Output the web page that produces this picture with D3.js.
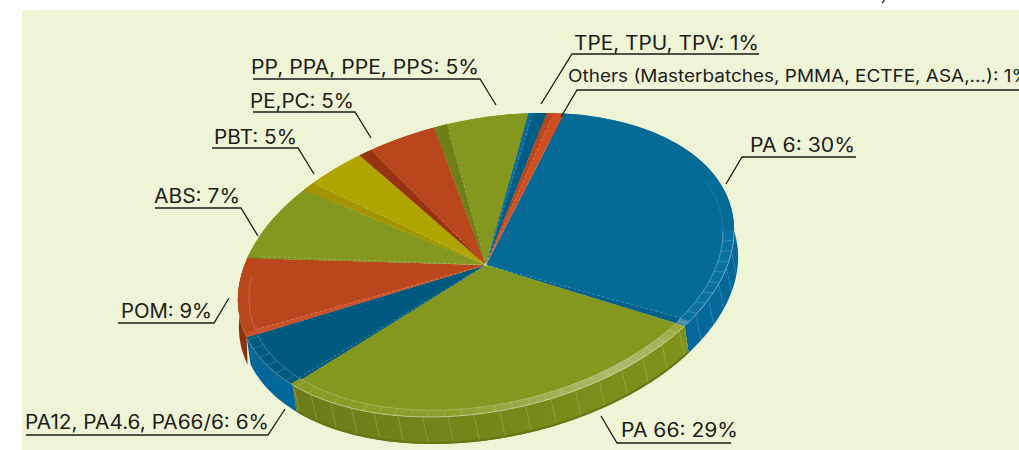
<!DOCTYPE html>
<html>
<head>
<meta charset="utf-8">
<script src="https://d3js.org/d3.v7.min.js"></script>
<style>
    html, body { margin: 0; background: #fff; overflow: hidden; }
    text { font-family: Inter, "Open Sans", sans-serif; fill: #1b1b18; }
</style>
</head>
<body>
<script>
    // printed on the chart (they add up to 98, the artwork does not follow them exactly)
    const categories = ['PA 6', 'PA 66', 'PA12, PA4.6, PA66/6', 'POM', 'ABS', 'PBT', 'PE,PC', 'PP, PPA, PPE, PPS', 'TPE, TPU, TPV', 'Others (Masterbatches, PMMA, ECTFE, ASA,...)'];
    const printed = [30, 29, 6, 9, 7, 5, 5, 5, 1, 1];
    // slice widths, in percent of the circle
    const drawn = [30.15, 29, 6.55, 8.65, 7.5, 4.6, 5.15, 6.1, 1.2, 1.15];

    const topColours = ['#046b97', '#84971e', '#005a7f', '#b9471b', '#84971e', '#b0a500', '#b9471b', '#84971e', '#005e86', '#d04f22'];
    const stripColours = ['#03618b', '#84971e', '#02587c', '#c9522a', '#7f9020', '#a59300', '#97340f', '#6f7f17', '#0a6d99', '#b9471b'];
    const wallColours = ['#04689a', '#71801a', '#04679a', '#8e3210', '#71801a', '#a59300', '#97340f', '#6f7f17', '#005e86', '#b9471b'];
    const stripWidths = [2.2, 0, 1, 2, 0.8, 3, 3, 3, 1, 1.6]; // degrees

    // label x, baseline, text width, underline from x, underline to x, underline y, leader end x, y, leader side
    const labelLayout = [
        {x: 750, y: 152, w: 105, x0: 742, x1: 856, ly: 157, ex: 726, ey: 184, side: 0},
        {x: 621, y: 437, w: 117, x0: 617, x1: 731, ly: 443, ex: 601, ey: 416, side: 0},
        {x: 25,  y: 429, w: 244, x0: 26,  x1: 268, ly: 435, ex: 285, ey: 409, side: 1},
        {x: 121, y: 318, w: 91,  x0: 118, x1: 214, ly: 323, ex: 229, ey: 298, side: 1},
        {x: 154, y: 203, w: 86,  x0: 155, x1: 241, ly: 208, ex: 258, ey: 236, side: 1},
        {x: 214, y: 144, w: 83,  x0: 212, x1: 298, ly: 148, ex: 314, ey: 174, side: 1},
        {x: 250, y: 108, w: 104, x0: 253, x1: 355, ly: 112, ex: 371, ey: 138, side: 1},
        {x: 251, y: 74,  w: 228, x0: 253, x1: 480, ly: 79,  ex: 496, ey: 105, side: 1},
        {x: 574, y: 50,  w: 185, x0: 572, x1: 759, ly: 54,  ex: 541, ey: 104, side: 0},
        {x: 568, y: 82,  w: 462, x0: 577, x1: 1019, ly: 90, ex: 561, ey: 117, side: 0}
    ];

    const width = 1019, height = 450;
    const cx = 486, cy = 265;
    const depth = [4, 27];
    const rad = Math.PI / 180;
    const R = 100, bevelR = 95.5;

    const svg = d3.select('body').append('svg')
        .attr('width', width)
        .attr('height', height);

    svg.append('rect')
        .attr('x', 22).attr('y', 10)
        .attr('width', width - 22).attr('height', height - 10)
        .attr('fill', '#eff4d6');

    // bit of clipped text above the panel in the original
    svg.append('line')
        .attr('x1', 884.5).attr('y1', 0).attr('x2', 882).attr('y2', 3)
        .attr('stroke', '#222').attr('stroke-width', 1.2);

    // d3 angle (clockwise from 12 o'clock) + radius -> screen
    function project(a, r) {
        const u = Math.sin(a) * r / R, v = Math.cos(a) * r / R;
        return [cx + 248 * u + 8 * v, cy - 30 * u - 149 * v];
    }

    const slices = d3.pie().sort(null)
        .startAngle(16.5 * rad)
        .endAngle(376.5 * rad)(drawn);

    const line = d3.line();
    const arc = d3.arc();

    // side walls
    const defs = svg.append('defs');
    const grad = defs.append('linearGradient').attr('id', 'wall66')
        .attr('gradientUnits', 'userSpaceOnUse')
        .attr('x1', 300).attr('x2', 690).attr('y1', 0).attr('y2', 0);
    grad.append('stop').attr('offset', 0).attr('stop-color', '#6d7c17');
    grad.append('stop').attr('offset', 1).attr('stop-color', '#80921b');

    const walls = svg.append('g');
    slices.forEach((s, i) => {
        const steps = d3.range(s.startAngle, s.endAngle, 1 * rad).concat(s.endAngle);
        const rim = steps.map(a => project(a, R));
        const dx = i === 3 ? 1 : depth[0]; // POM shows as a sliver down the left side
        const low = rim.map(p => [p[0] + dx, p[1] + depth[1]]).reverse();
        walls.append('path')
            .attr('d', line(rim.concat(low)) + 'Z')
            .attr('fill', i === 1 ? 'url(#wall66)' : wallColours[i]);
        if (i === 1) {
            // darker foot of the wall
            const foot = rim.map(p => [p[0] + depth[0], p[1] + depth[1] - 1]);
            walls.append('path').attr('d', line(foot)).attr('fill', 'none')
                .attr('stroke', '#667515').attr('stroke-width', 2);
        }
        // faint facet lines on the wall
        if (i === 0 || i === 1) {
            d3.range(s.startAngle + 2 * rad, s.endAngle, 6 * rad).forEach(a => {
                const p = project(a, R);
                if (a / rad < 92) return;
                walls.append('path')
                    .attr('d', line([p, [p[0] + depth[0] + 1.5, p[1] + depth[1] - 2]]))
                    .attr('stroke', '#fff').attr('stroke-opacity', 0.22).attr('stroke-width', 0.8);
            });
        }
    });

    // top faces, drawn on a unit disc and squashed into the tilted ellipse
    const faces = svg.append('g')
        .attr('transform', `matrix(2.48,-0.30,-0.08,1.49,${cx},${cy})`);

    slices.forEach((s, i) => {
        faces.append('path')
            .attr('d', arc({innerRadius: 0, outerRadius: R, startAngle: s.startAngle, endAngle: s.endAngle}))
            .attr('fill', topColours[i]);
        const w = stripWidths[i] * rad;
        if (w > 0) {
            const a0 = i === 0 ? s.endAngle - w : s.startAngle;
            faces.append('path')
                .attr('d', arc({innerRadius: 0, outerRadius: R, startAngle: a0, endAngle: a0 + w}))
                .attr('fill', stripColours[i]);
        }
    });

    // bevel round the front of the rim
    const joinA = slices[0].endAngle / rad, joinB = slices[1].endAngle / rad, joinC = slices[2].endAngle / rad;
    const bevelGreen = d3.scaleLinear()
        .domain([joinA, joinA + 6, joinA + 21, joinA + 61, joinB])
        .range(['#9aa83c', '#a5b45c', '#adba6c', '#8d9f2b', '#879a22']);
    function bevelColour(deg) {
        if (deg < joinA - 2) return '#0a72a2';
        if (deg < joinA) return '#4a8bb0';
        if (deg > joinB) return '#005a7f';
        return bevelGreen(deg);
    }
    d3.range(88, joinC, 1).forEach(deg => {
        faces.append('path')
            .attr('d', arc({innerRadius: bevelR, outerRadius: R, startAngle: deg * rad, endAngle: Math.min(deg + 1.1, joinC) * rad}))
            .attr('fill', bevelColour(deg));
    });

    const ring = svg.append('g').attr('fill', 'none').attr('stroke', '#fff');
    function rimLine(from, to, r, opacity) {
        ring.append('path')
            .attr('d', line(d3.range(from, to + 0.01, 1).map(d => project(d * rad, r))))
            .attr('stroke-opacity', opacity).attr('stroke-width', 0.8);
    }
    rimLine(66, 88, bevelR, 0.15);
    rimLine(88, joinA, bevelR, 0.4);
    rimLine(88, joinA, R, 0.45);
    rimLine(joinA, joinC, bevelR, 0.3);
    rimLine(joinA, joinB, R, 0.55);
    rimLine(joinB, joinC, R, 0.3);
    rimLine(joinC + 2, joinC + 24, bevelR, 0.22);
    d3.range(92, joinC, 4).forEach(deg => {
        ring.append('path')
            .attr('d', line([project(deg * rad, bevelR), project(deg * rad, R)]))
            .attr('stroke-opacity', 0.25).attr('stroke-width', 0.7);
    });

    // dashed seams running along the strips
    slices.forEach((s, i) => {
        if (stripWidths[i] <= 0) return;
        const a = i === 0 ? s.endAngle - stripWidths[i] * rad : s.startAngle + stripWidths[i] * rad;
        ring.append('path')
            .attr('d', line([[cx, cy], project(a, bevelR)]))
            .attr('stroke-opacity', 0.35).attr('stroke-width', 0.7)
            .attr('stroke-dasharray', '3 2');
    });

    // labels and leaders
    const labels = svg.append('g');
    categories.forEach((name, i) => {
        const l = labelLayout[i];
        labels.append('text')
            .attr('x', l.x).attr('y', l.y)
            .attr('font-size', i === 9 ? 17 : 19.5)
            .attr('textLength', l.w)
            .attr('lengthAdjust', 'spacingAndGlyphs')
            .text(`${name}: ${printed[i]}%`);
        const elbow = l.side ? l.x1 : l.x0;
        const far = l.side ? l.x0 : l.x1;
        labels.append('path')
            .attr('d', line([[far, l.ly], [elbow, l.ly], [l.ex, l.ey]]))
            .attr('fill', 'none')
            .attr('stroke', '#1b1b18')
            .attr('stroke-width', 1.3);
    });
</script>
</body>
</html>
